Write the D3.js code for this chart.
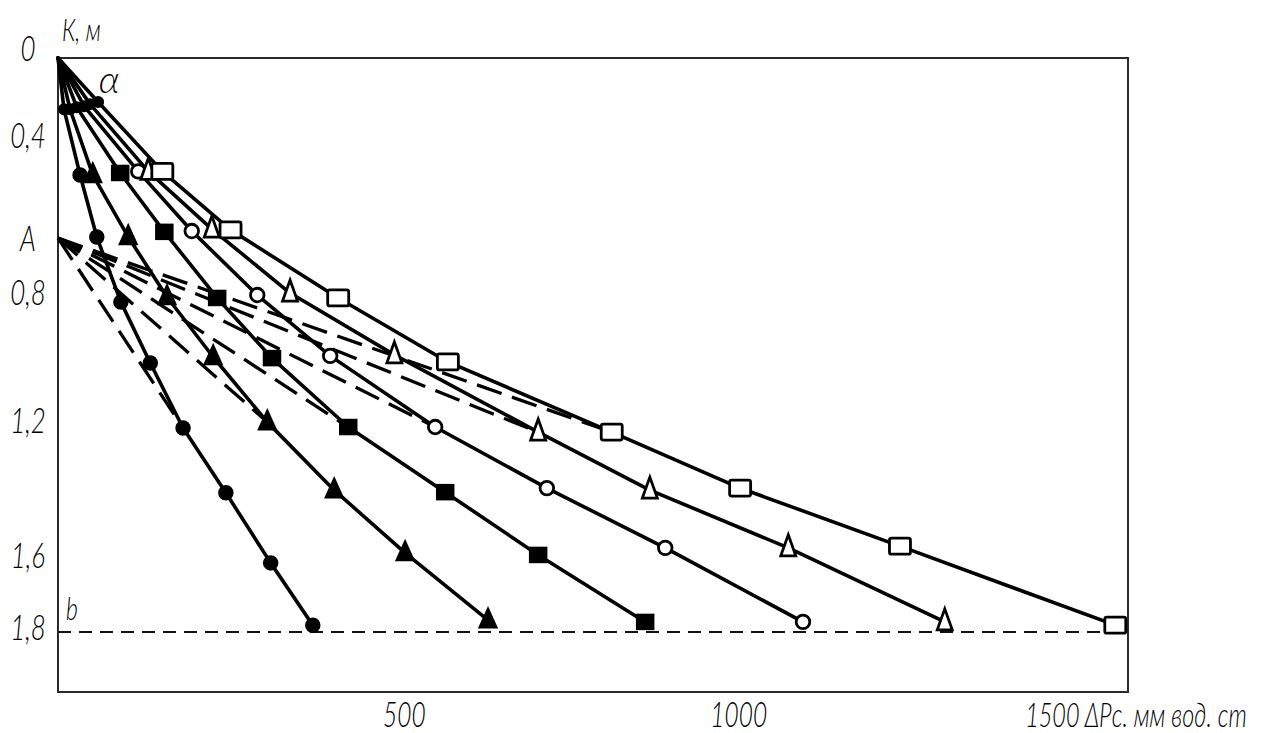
<!DOCTYPE html>
<meta charset="utf-8">
<title>K - ΔPc</title>
<style>
  body { margin: 0; background: #fff; }
  .frame { fill: none; stroke: #2a2a2a; stroke-width: 2px; }
  .curve { fill: none; stroke: #000; stroke-width: 3.6px; stroke-linejoin: round; stroke-linecap: round; }
  .branch { fill: none; stroke: #000; stroke-width: 3.3px; stroke-dasharray: 26 11; }
  .bline { stroke: #111; stroke-width: 1.8px; stroke-dasharray: 13 8; }
  .lbl { font-family: Lato, "DejaVu Sans", sans-serif; font-style: italic; font-weight: 300; fill: #000; }
</style>
<body>
<script src="https://d3js.org/d3.v7.min.js"></script>
<script>

var width = 1278, height = 733;

// ΔPc, мм вод. ст
var dp_fc = [0, 9, 33, 58, 94, 138, 187, 251, 318, 381];
var dp_ft = [0, 18, 52, 105, 163, 232, 313, 413, 519, 643];
var dp_fs = [0, 28, 93, 159, 238, 320, 434, 579, 718, 878];
var dp_oc = [0, 39, 120, 200, 298, 407, 564, 731, 908, 1114];
var dp_ot = [0, 48, 135, 230, 347, 503, 718, 885, 1092, 1326];
var dp_os = [0, 60, 156, 258, 419, 583, 828, 1020, 1259, 1581];

// K, м
var k_fc = [0, 0.25, 0.489, 0.647, 0.816, 1.006, 1.209, 1.401, 1.608, 1.781];
var k_ft = [0, 0.25, 0.489, 0.647, 0.8, 0.9875, 1.191, 1.393, 1.579, 1.767];
var k_fs = [0, 0.24, 0.484, 0.634, 0.803, 0.991, 1.206, 1.399, 1.585, 1.772];
var k_oc = [0, 0.235, 0.48, 0.632, 0.795, 0.984, 1.206, 1.387, 1.564, 1.772];
var k_ot = [0, 0.225, 0.48, 0.627, 0.79, 0.981, 1.221, 1.393, 1.564, 1.772];
var k_os = [0, 0.215, 0.48, 0.629, 0.803, 1.003, 1.221, 1.387, 1.559, 1.781];

// dashed branches start at point A and join each curve at its 7th point
var branchStart = [0, 0.65];
var branchJoin = 6;

var yTicks = [0, 0.4, 0.65, 0.8, 1.2, 1.6, 1.8];
var yTickLabels = ["0", "0,4", "A", "0,8", "1,2", "1,6", "1,8"];
var xTicks = [500, 1000, 1500];
var xTickLabels = ["500", "1000", "1500 ΔPс. мм вод. ст"];
var bLevel = 1.8;

var dpSeries = [dp_fc, dp_ft, dp_fs, dp_oc, dp_ot, dp_os];
var kSeries = [k_fc, k_ft, k_fs, k_oc, k_ot, k_os];
var markerKind = ["circle", "triangle", "square", "circle", "triangle", "square"];
var markerFilled = [true, true, true, false, false, false];

var x = d3.scaleLinear().domain([0, 1600]).range([58, 1128]);
// the scanned axis is not quite uniform
var y = d3.scaleLinear()
  .domain([0, 0.4, 0.8, 1.2, 1.6, 1.8, 2.0])
  .range([58, 140, 297, 425, 560, 632, 692]);

var svg = d3.select("body").append("svg")
  .attr("width", width)
  .attr("height", height);

svg.append("rect").attr("width", width).attr("height", height).attr("fill", "#fff");

svg.append("rect").attr("class", "frame")
  .attr("x", x(0)).attr("y", y(0))
  .attr("width", x(1600) - x(0)).attr("height", y(2.0) - y(0));

svg.append("line").attr("class", "bline")
  .attr("x1", x(0)).attr("x2", x(1600))
  .attr("y1", y(bLevel)).attr("y2", y(bLevel));

var line = d3.line().x(function(d) { return x(d[0]); }).y(function(d) { return y(d[1]); });

function points(i) {
  return dpSeries[i].map(function(v, j) { return [v, kSeries[i][j]]; });
}

// dashed branches from A
dpSeries.forEach(function(dp, i) {
  svg.append("path").attr("class", "branch")
    .attr("d", line([branchStart, [dp[branchJoin], kSeries[i][branchJoin]]]));
});

// solid curves
dpSeries.forEach(function(dp, i) {
  svg.append("path").attr("class", "curve").attr("d", line(points(i)));
});

function triPath(w, h) {
  return "M0," + (-h * 0.62) + "L" + (w / 2) + "," + (h * 0.38) + "L" + (-w / 2) + "," + (h * 0.38) + "Z";
}

// markers (the first row near the origin is smudged black in the scan)
dpSeries.forEach(function(dp, i) {
  var g = svg.append("g");
  points(i).slice(1).forEach(function(p, j) {
    var px = x(p[0]), py = y(p[1]);
    var m;
    if (j == 0) {
      g.append("circle").attr("cx", px).attr("cy", py).attr("r", 6).attr("fill", "#000");
      return;
    }
    var filled = markerFilled[i];
    if (markerKind[i] == "circle") {
      m = g.append("circle").attr("cx", px).attr("cy", py).attr("r", filled ? 7 : 6.8);
    } else if (markerKind[i] == "triangle") {
      m = g.append("path").attr("transform", "translate(" + px + "," + py + ")")
        .attr("d", filled ? triPath(18, 20) : triPath(15, 21));
    } else {
      var w = filled ? 17 : 21, h = filled ? 15 : 16;
      m = g.append("rect").attr("x", px - w / 2).attr("y", py - h / 2)
        .attr("width", w).attr("height", h).attr("rx", filled ? 0 : 2);
    }
    m.attr("fill", filled ? "#000" : "#fff").attr("stroke", "#000").attr("stroke-width", filled ? 1.5 : 2.8);
  });
});

function label(px, py, str, size, anchor, sx) {
  svg.append("g").attr("transform", "translate(" + px + "," + py + ") scale(" + (sx || 0.72) + ",1)")
    .append("text").attr("class", "lbl")
    .attr("text-anchor", anchor || "middle")
    .attr("dy", "0.35em")
    .style("font-size", size + "px")
    .text(str);
}

yTicks.forEach(function(v, i) {
  var off = v == 0 ? -10 : (yTickLabels[i] == "A" ? 0 : -5);
  label(28, y(v) + off, yTickLabels[i], 36);
});

xTicks.forEach(function(v, i) {
  if (i == xTicks.length - 1) label(x(v) - 36, 715, xTickLabels[i], 34, "start", 0.69);
  else label(x(v) + 12, 715, xTickLabels[i], 35, "middle", 0.7);
});

label(62, 30, "К, м", 31, "start");
label(109, 80, "α", 38, "middle", 1);
label(72, 609, "b", 32);

</script>
